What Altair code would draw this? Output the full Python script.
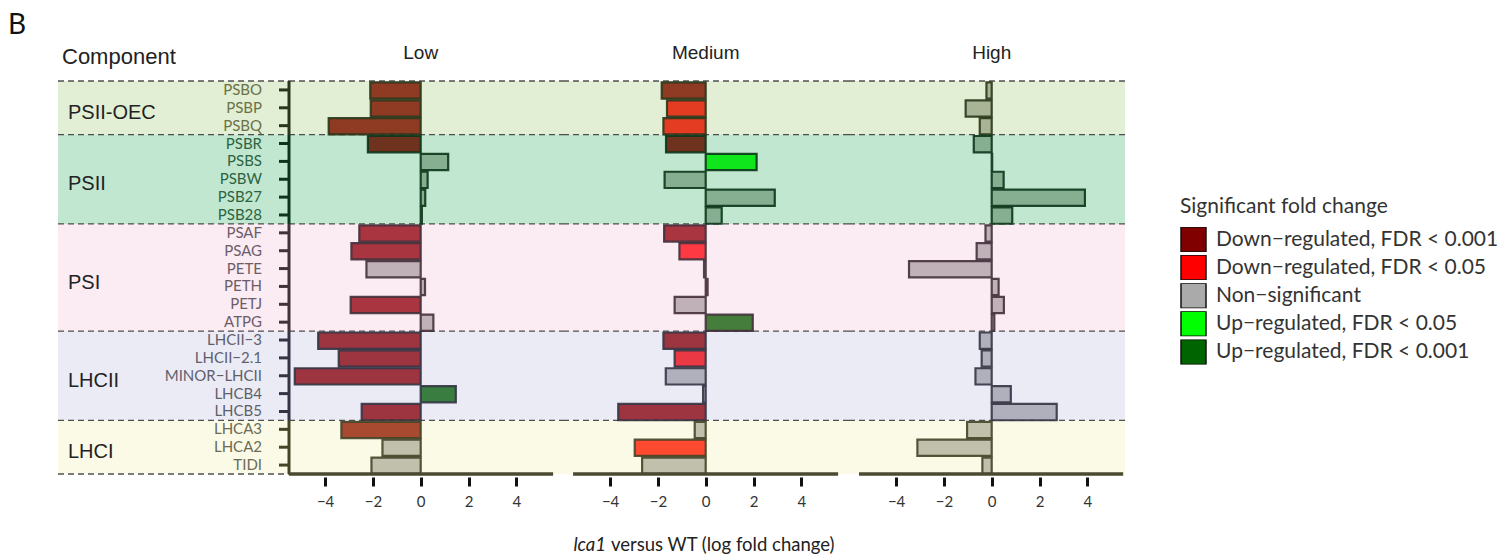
import altair as alt
import pandas as pd

# ---------------- data ----------------
genes = ["PSBO", "PSBP", "PSBQ", "PSBR", "PSBS", "PSBW", "PSB27", "PSB28",
         "PSAF", "PSAG", "PETE", "PETH", "PETJ", "ATPG",
         "LHCII−3", "LHCII−2.1", "MINOR−LHCII", "LHCB4", "LHCB5",
         "LHCA3", "LHCA2", "TIDI"]
gene_groups = (["PSII-OEC"] * 3 + ["PSII"] * 5 + ["PSI"] * 6 +
               ["LHCII"] * 5 + ["LHCI"] * 3)
group_names = ["PSII-OEC", "PSII", "PSI", "LHCII", "LHCI"]
conditions = ["Low", "Medium", "High"]

low_fc = [-2.11, -2.09, -3.85, -2.21, 1.15, 0.29, 0.19, 0.05,
          -2.57, -2.90, -2.27, 0.18, -2.93, 0.53,
          -4.29, -3.43, -5.27, 1.47, -2.47,
          -3.32, -1.60, -2.06]
medium_fc = [-1.84, -1.62, -1.77, -1.66, 2.13, -1.72, 2.89, 0.67,
             -1.74, -1.10, -0.07, 0.08, -1.30, 1.97,
             -1.77, -1.30, -1.67, -0.11, -3.66,
             -0.46, -2.97, -2.66]
high_fc = [-0.22, -1.09, -0.50, -0.75, 0.02, 0.50, 3.90, 0.86,
           -0.26, -0.63, -3.46, 0.29, 0.51, 0.11,
           -0.50, -0.42, -0.68, 0.80, 2.72,
           -1.03, -3.11, -0.39]

low_sig = ["D3", "D3", "D3", "D3", "NS", "NS", "NS", "NS",
           "D3", "D3", "NS", "NS", "D3", "NS",
           "D3", "D3", "D3", "U3", "D3",
           "D3", "NS", "NS"]
medium_sig = ["D3", "D2", "D2", "D3", "U2", "NS", "NS", "NS",
              "D3", "D2", "NS", "NS", "NS", "U3",
              "D3", "D2", "NS", "NS", "D3",
              "NS", "D2", "NS"]
high_sig = ["NS"] * 22

legend_labels = ["Down−regulated, FDR < 0.001", "Down−regulated, FDR < 0.05",
                 "Non−significant", "Up−regulated, FDR < 0.05",
                 "Up−regulated, FDR < 0.001"]
x_ticks = [-4, -2, 0, 2, 4]

# ---------------- styles ----------------
band_colors = {"PSII-OEC": "#e2efd4", "PSII": "#c2e7d0", "PSI": "#fbebf3",
               "LHCII": "#ebebf6", "LHCI": "#fbfae7"}
stroke_colors = {"PSII-OEC": "#2a361a", "PSII": "#0b361a", "PSI": "#42303b",
                 "LHCII": "#343444", "LHCI": "#444428"}
label_colors = {"PSII-OEC": "#6b7148", "PSII": "#2b6443", "PSI": "#6d5d68",
                "LHCII": "#5f5f6c", "LHCI": "#6b6b55"}
bar_colors = {
    "PSII-OEC|D3": "#8f3a22", "PSII-OEC|D2": "#e33c22", "PSII-OEC|NS": "#a9b496",
    "PSII|D3": "#6e321e", "PSII|NS": "#86ae90", "PSII|U2": "#10e61c",
    "PSI|D3": "#a93540", "PSI|D2": "#fd3a44", "PSI|NS": "#c0b1b8", "PSI|U3": "#457d3c",
    "LHCII|D3": "#9c3540", "LHCII|D2": "#ea3845", "LHCII|NS": "#b0b0bd", "LHCII|U3": "#3a7d40",
    "LHCI|D3": "#a84a30", "LHCI|D2": "#ff4a30", "LHCI|NS": "#c0c0ad",
}
legend_colors = ["#800000", "#ff0000", "#aaaaaa", "#00ff00", "#006400"]

SANS = "Liberation Sans"
MYR = "Lato"
N = len(genes)
HEIGHT = 393
UNIT = 23.9  # px per log-fold unit

rows = pd.DataFrame({"gene": genes, "group": gene_groups, "row": list(range(N))})
grp = rows.groupby("group", sort=False)["row"].agg(["min", "max"]).reset_index()
grp["start"] = grp["min"]
grp["end"] = grp["max"] + 1
grp["mid"] = (grp["start"] + grp["end"]) / 2
bounds_df = pd.DataFrame({"b": list(grp["start"]) + [N]})
one = pd.DataFrame({"a": [0]})

yscale = alt.Scale(domain=[0, N], reverse=True, nice=False, zero=False)
band_fill = alt.Scale(domain=group_names, range=[band_colors[g] for g in group_names])
stroke_scale = alt.Scale(domain=group_names, range=[stroke_colors[g] for g in group_names])
label_scale = alt.Scale(domain=group_names, range=[label_colors[g] for g in group_names])
bar_scale = alt.Scale(domain=list(bar_colors.keys()), range=list(bar_colors.values()))


def bands_layer(x0, x1):
    return alt.Chart(grp).mark_rect().encode(
        x=alt.value(x0), x2=alt.value(x1),
        y=alt.Y("start:Q", scale=yscale, axis=None), y2="end:Q",
        fill=alt.Fill("group:N", scale=band_fill, legend=None))


def dash_layer(df, x0, x1):
    return alt.Chart(df).mark_rule(strokeDash=[6, 4], color="#333333",
                                    strokeWidth=1.3, opacity=0.85).encode(
        x=alt.value(x0), x2=alt.value(x1),
        y=alt.Y("b:Q", scale=yscale, axis=None))


# ---------------- label panel ----------------
LW = 289
lab_layers = [
    bands_layer(58, LW),
    dash_layer(bounds_df, 58, LW),
    alt.Chart(grp).mark_text(align="left", baseline="middle", font=SANS,
                             fontSize=20, color="#222222", dy=5).encode(
        x=alt.value(68), y=alt.Y("mid:Q", scale=yscale, axis=None), text="group:N"),
    alt.Chart(rows).transform_calculate(yc="datum.row + 0.5").mark_text(
        align="right", baseline="middle", font=MYR, fontSize=15).encode(
        x=alt.value(262), y=alt.Y("yc:Q", scale=yscale, axis=None), text="gene:N",
        fill=alt.Fill("group:N", scale=label_scale, legend=None)),
    alt.Chart(rows).transform_calculate(yc="datum.row + 0.5").mark_rule(strokeWidth=3).encode(
        x=alt.value(279), x2=alt.value(LW), y=alt.Y("yc:Q", scale=yscale, axis=None),
        stroke=alt.Stroke("group:N", scale=stroke_scale, legend=None)),
    alt.Chart(one).mark_text(align="left", baseline="middle", font=MYR, fontSize=28,
                             color="#111111").encode(
        x=alt.value(8), y=alt.value(-55), text=alt.value("B")),
    alt.Chart(one).mark_text(align="left", baseline="middle", font=SANS, fontSize=22,
                             color="#222222").encode(
        x=alt.value(62), y=alt.value(-24), text=alt.value("Component")),
]
label_panel = alt.layer(*lab_layers).resolve_scale(
    fill="independent", stroke="independent").properties(width=LW, height=HEIGHT)


# ---------------- data panels ----------------
def panel(cond, fc, sig, width, zero_px, axis_lo, axis_hi, extra=()):
    d = rows.copy()
    d["fc"] = fc
    d["sig"] = sig
    d["key"] = d["group"] + "|" + d["sig"]
    dom = [-zero_px / UNIT, (width - zero_px) / UNIT]
    bars = alt.Chart(d).transform_calculate(
        y0="datum.row + 0.08", y1="datum.row + 0.99").mark_rect(
        strokeWidth=2.2, strokeOpacity=0.9).encode(
        x=alt.X("fc:Q", scale=alt.Scale(domain=dom, nice=False, zero=False),
                axis=alt.Axis(values=x_ticks, domain=False, grid=False, tickWidth=3,
                              tickSize=9, tickColor="#111111", labelFont=MYR,
                              labelFontSize=15, labelColor="#333333", labelPadding=8,
                              offset=3, title=None)),
        x2=alt.datum(0),
        y=alt.Y("y0:Q", scale=yscale, axis=None), y2="y1:Q",
        fill=alt.Fill("key:N", scale=bar_scale, legend=None),
        stroke=alt.Stroke("group:N", scale=stroke_scale, legend=None))
    axis_line = alt.Chart(one).mark_rule(color="#4a4a30", strokeWidth=3.5).encode(
        x=alt.datum(axis_lo), x2=alt.datum(axis_hi), y=alt.value(HEIGHT))
    title = alt.Chart(one).mark_text(font=SANS, fontSize=19, color="#222222",
                                     baseline="middle").encode(
        x=alt.datum(0), y=alt.value(-28), text=alt.value(cond))
    layers = [bands_layer(0, width), dash_layer(grp.rename(columns={"start": "b"}), 0, width),
              bars, axis_line, title] + list(extra)
    return alt.layer(*layers).resolve_scale(
        fill="independent", stroke="independent").properties(width=width, height=HEIGHT)


yaxis_line = alt.Chart(grp).mark_rule(strokeWidth=3).encode(
    x=alt.value(0), y=alt.Y("start:Q", scale=yscale, axis=None), y2="end:Q",
    stroke=alt.Stroke("group:N", scale=stroke_scale, legend=None))

axis_title = [
    alt.Chart(one).mark_text(align="right", baseline="middle", font=MYR, fontSize=18.5,
                             fontStyle="italic", color="#222222").encode(
        x=alt.value(43), y=alt.value(464), text=alt.value("lca1")),
    alt.Chart(one).mark_text(align="left", baseline="middle", font=MYR, fontSize=18.5,
                             color="#222222").encode(
        x=alt.value(48), y=alt.value(464), text=alt.value("versus WT (log fold change)")),
]

legend_layer = alt.Chart(pd.DataFrame({"label": legend_labels})).mark_square(
    size=0, filled=True).encode(
    x=alt.datum(0), y=alt.datum(0),
    color=alt.Color("label:N", scale=alt.Scale(domain=legend_labels, range=legend_colors),
                    legend=alt.Legend(orient="none", legendX=1180, legendY=115,
                                      title="Significant fold change", titleFont=MYR,
                                      titleFontSize=21, titleFontWeight="normal",
                                      titleColor="#333333", titlePadding=10, titleLimit=500,
                                      labelFont=MYR, labelFontSize=21, labelColor="#333333",
                                      labelLimit=500, labelOffset=9, symbolType="square",
                                      symbolSize=625, symbolStrokeColor="#111111",
                                      symbolStrokeWidth=1.5, symbolOpacity=1,
                                      clipHeight=25, rowPadding=3.1)))

low = panel("Low", low_fc, low_sig, 274, 131.7, -5.51, 5.54, extra=[yaxis_line])
med = panel("Medium", medium_fc, medium_sig, 286, 142.7, -5.55, 5.54, extra=axis_title)
high = panel("High", high_fc, high_sig, 276, 142.7, -5.55, 5.5, extra=[legend_layer])

chart = alt.hconcat(label_panel, low, med, high, spacing=0, bounds="flush").properties(
    padding={"left": 0, "top": 12, "right": 5, "bottom": 0}
).configure_view(stroke=None)

chart.save("out.html", embed_options={"renderer": "svg", "actions": False})
